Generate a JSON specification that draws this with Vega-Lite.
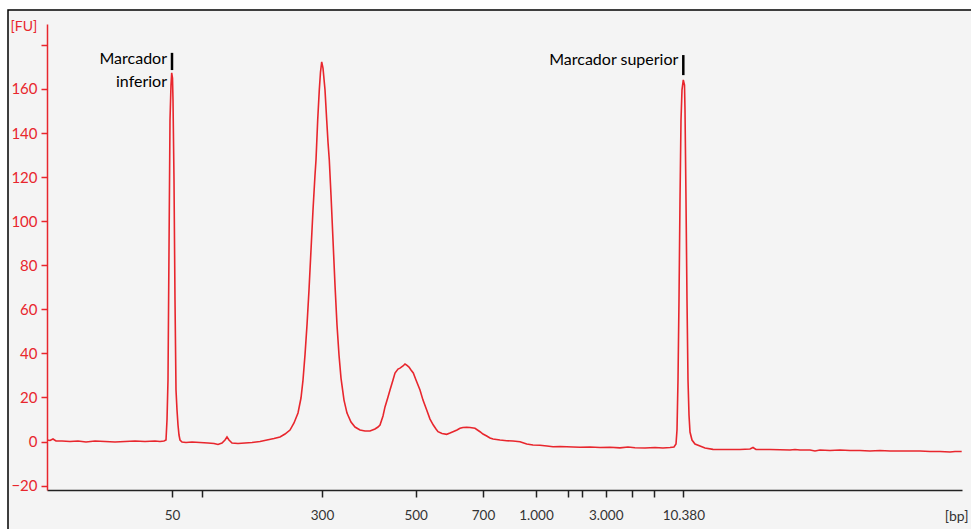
{
  "$schema": "https://vega.github.io/schema/vega-lite/v6.json",
  "width": 915,
  "height": 466,
  "autosize": "none",
  "padding": {"left": 47, "top": 24, "right": 9, "bottom": 39},
  "background": "white",
  "config": {"view": {"stroke": null}, "font": "Lato"},
  "datasets": {
    "trace": [
      {"t":30.0,"fu":0.68},{"t":30.3,"fu":0.45},{"t":30.6,"fu":1.13},{"t":30.9,"fu":0.23},{"t":31.5,"fu":0.23},{"t":32.3,"fu":0},{"t":33.1,"fu":0.23},{"t":33.9,"fu":-0.23},{"t":34.8,"fu":0.23},{"t":35.8,"fu":0},{"t":36.8,"fu":-0.23},{"t":37.8,"fu":0},{"t":38.8,"fu":0.23},{"t":39.8,"fu":0},{"t":40.8,"fu":0.23},{"t":41.3,"fu":0},{"t":41.7,"fu":0.23},{"t":41.9,"fu":0.68},
      {"t":42.0,"fu":9.76},{"t":42.1,"fu":27.9},{"t":42.2,"fu":86.9},{"t":42.3,"fu":145.9},{"t":42.4,"fu":161.8},{"t":42.47,"fu":167.3},{"t":42.55,"fu":165.0},{"t":42.6,"fu":155.0},{"t":42.7,"fu":118.7},{"t":42.8,"fu":64.2},{"t":42.9,"fu":23.4},{"t":43.0,"fu":14.3},{"t":43.1,"fu":7.5},{"t":43.2,"fu":2.95},{"t":43.3,"fu":0.68},
      {"t":43.5,"fu":-0.23},{"t":43.9,"fu":-0.45},{"t":44.5,"fu":-0.23},{"t":45.3,"fu":-0.45},{"t":46.1,"fu":-0.68},{"t":46.7,"fu":-0.91},{"t":47.1,"fu":-1.36},{"t":47.5,"fu":-0.68},{"t":47.8,"fu":0.68},{"t":48.0,"fu":2.04},{"t":48.2,"fu":0.68},{"t":48.5,"fu":-0.68},{"t":49.1,"fu":-0.91},{"t":49.8,"fu":-0.68},{"t":50.5,"fu":-0.45},{"t":51.3,"fu":0},{"t":52.0,"fu":0.68},{"t":52.7,"fu":1.36},{"t":53.3,"fu":2.04},{"t":53.8,"fu":3.4},{"t":54.3,"fu":5.22},{"t":54.7,"fu":8.4},{"t":55.1,"fu":12.94},{"t":55.4,"fu":19.75},{"t":55.6,"fu":27.9},{"t":55.8,"fu":39.3},{"t":56.0,"fu":52.9},{"t":56.2,"fu":68.8},{"t":56.4,"fu":86.9},{"t":56.6,"fu":105.1},{"t":56.8,"fu":121.0},{"t":56.9,"fu":127.8},{"t":57.07,"fu":145.9},{"t":57.23,"fu":159.6},{"t":57.35,"fu":167.7},{"t":57.47,"fu":172.3},{"t":57.6,"fu":169.5},{"t":57.8,"fu":159.6},{"t":57.97,"fu":145.9},{"t":58.1,"fu":135.9},{"t":58.23,"fu":127.8},{"t":58.4,"fu":111.9},{"t":58.6,"fu":91.5},{"t":58.8,"fu":71.0},{"t":59.0,"fu":52.9},{"t":59.2,"fu":39.3},{"t":59.4,"fu":28.8},{"t":59.7,"fu":18.8},{"t":60.0,"fu":12.9},{"t":60.4,"fu":8.85},{"t":60.8,"fu":6.58},{"t":61.3,"fu":5.22},{"t":61.8,"fu":4.77},{"t":62.3,"fu":4.77},{"t":62.8,"fu":5.67},{"t":63.1,"fu":6.58},{"t":63.3,"fu":7.49},{"t":63.6,"fu":11.6},{"t":63.8,"fu":15.7},{"t":64.1,"fu":20.2},{"t":64.3,"fu":23.4},{"t":64.6,"fu":27.9},{"t":64.8,"fu":31.1},{"t":65.1,"fu":32.9},{"t":65.3,"fu":33.3},{"t":65.6,"fu":34.3},{"t":65.8,"fu":35.2},{"t":65.97,"fu":34.7},{"t":66.2,"fu":33.8},{"t":66.4,"fu":32.5},{"t":66.63,"fu":31.1},{"t":66.9,"fu":27.9},{"t":67.3,"fu":23.4},{"t":67.6,"fu":18.8},{"t":67.97,"fu":14.3},{"t":68.3,"fu":10.2},{"t":68.63,"fu":7.49},{"t":68.9,"fu":5.67},{"t":69.1,"fu":4.45},{"t":69.5,"fu":3.63},{"t":69.97,"fu":3.27},{"t":70.3,"fu":3.86},{"t":70.6,"fu":4.45},{"t":71.0,"fu":5.22},{"t":71.3,"fu":5.99},{"t":71.6,"fu":6.35},{"t":71.97,"fu":6.45},{"t":72.3,"fu":6.35},{"t":72.8,"fu":5.99},{"t":73.3,"fu":4.45},{"t":73.6,"fu":3.4},{"t":73.97,"fu":2.5},{"t":74.3,"fu":1.59},{"t":74.6,"fu":1.13},{"t":75.3,"fu":0.68},{"t":75.97,"fu":0.36},{"t":76.6,"fu":0.23},{"t":77.3,"fu":-0.09},{"t":77.97,"fu":-1.13},{"t":78.6,"fu":-1.59},{"t":79.3,"fu":-1.72},{"t":80.0,"fu":-2.04},{"t":80.6,"fu":-2.36},{"t":81.3,"fu":-2.27},{"t":81.97,"fu":-2.36},{"t":82.6,"fu":-2.5},{"t":83.3,"fu":-2.63},{"t":84.3,"fu":-2.5},{"t":85.3,"fu":-2.72},{"t":86.3,"fu":-2.63},{"t":87.3,"fu":-2.86},{"t":88.1,"fu":-2.5},{"t":88.8,"fu":-2.81},{"t":89.8,"fu":-2.95},{"t":90.8,"fu":-2.72},{"t":91.6,"fu":-2.95},{"t":92.3,"fu":-2.72},{"t":92.7,"fu":-2.5},{"t":92.9,"fu":-1.13},
      {"t":93.0,"fu":5.22},{"t":93.1,"fu":27.9},{"t":93.2,"fu":64.2},{"t":93.3,"fu":109.6},{"t":93.4,"fu":145.9},{"t":93.5,"fu":159.6},{"t":93.63,"fu":164.1},{"t":93.75,"fu":161.8},{"t":93.8,"fu":150.5},{"t":93.9,"fu":109.6},{"t":94.0,"fu":64.2},{"t":94.1,"fu":27.9},{"t":94.2,"fu":12.0},{"t":94.3,"fu":4.31},{"t":94.5,"fu":0.68},{"t":94.8,"fu":-1.13},{"t":95.3,"fu":-2.04},{"t":95.8,"fu":-2.95},{"t":96.6,"fu":-3.54},{"t":97.8,"fu":-3.63},{"t":99.3,"fu":-3.63},{"t":100.3,"fu":-3.4},{"t":100.6,"fu":-2.72},{"t":100.9,"fu":-3.63},{"t":102.3,"fu":-3.63},{"t":104.3,"fu":-3.86},{"t":104.8,"fu":-3.63},{"t":105.3,"fu":-3.86},{"t":106.3,"fu":-3.86},{"t":106.8,"fu":-4.31},{"t":107.3,"fu":-3.86},{"t":108.3,"fu":-4.09},{"t":109.3,"fu":-3.86},{"t":110.3,"fu":-4.09},{"t":111.3,"fu":-4.09},{"t":112.3,"fu":-4.31},{"t":113.3,"fu":-4.09},{"t":114.3,"fu":-4.31},{"t":115.3,"fu":-4.31},{"t":116.3,"fu":-4.31},{"t":117.3,"fu":-4.31},{"t":118.3,"fu":-4.54},{"t":119.3,"fu":-4.54},{"t":120.3,"fu":-4.77},{"t":120.8,"fu":-4.54},{"t":121.47,"fu":-4.54}
    ],
    "markers": [
      {"t": 42.5, "top": 176.4, "bottom": 168.6},
      {"t": 93.63, "top": 175.4, "bottom": 166.3}
    ],
    "labels": [
      {"t": 42.5, "fu": 173.6, "text": "Marcador"},
      {"t": 42.5, "fu": 163.2, "text": "inferior"},
      {"t": 93.63, "fu": 173.2, "text": "Marcador superior"}
    ]
  },
  "layer": [
    {
      "data": {"values": [{"x0": 26.1, "x1": 125, "y0": 195.9, "y1": -53.8}]},
      "mark": {"type": "rect", "fill": "#f4f4f4", "stroke": "#000000", "strokeWidth": 1.5, "clip": false},
      "encoding": {
        "x": {"field": "x0", "type": "quantitative"},
        "x2": {"field": "x1"},
        "y": {"field": "y0", "type": "quantitative"},
        "y2": {"field": "y1"}
      }
    },
    {
      "data": {"name": "trace"},
      "mark": {"type": "line", "color": "#e8262d", "strokeWidth": 1.6, "clip": true},
      "encoding": {
        "x": {
          "field": "t", "type": "quantitative",
          "scale": {"domain": [30, 121.5], "nice": false, "zero": false},
          "axis": {
            "zindex": 1,
            "values": [42.5, 45.5, 57.5, 66.87, 73.6, 78.9, 82.1, 83.47, 85.87, 88.47, 90.67, 93.63],
            "labelExpr": "datum.value == 42.5 ? '50' : datum.value == 57.5 ? '300' : datum.value == 66.87 ? '500' : datum.value == 73.6 ? '700' : datum.value == 78.9 ? '1.000' : datum.value == 85.87 ? '3.000' : datum.value == 93.63 ? '10.380' : ''",
            "grid": false,
            "domainColor": "#222222", "domainWidth": 1.5,
            "tickColor": "#222222", "tickWidth": 1.5, "tickSize": 7,
            "labelColor": "#333333", "labelFontSize": 13.5, "labelFont": "Lato", "labelPadding": 11,
            "labelOverlap": false, "labelFlush": false,
            "title": "[bp]", "titleFont": "Lato", "titleFontSize": 14, "titleFontWeight": "normal", "titleColor": "#333333",
            "titleX": 921, "titleY": 26, "titleAlign": "right", "titleBaseline": "middle", "titleAnchor": null
          }
        },
        "y": {
          "field": "fu", "type": "quantitative",
          "scale": {"domain": [-22, 189.5], "nice": false, "zero": false},
          "axis": {
            "zindex": 1,
            "values": [-20, 0, 20, 40, 60, 80, 100, 120, 140, 160, 180],
            "labelExpr": "datum.value == 180 ? '' : datum.label",
            "grid": false,
            "domainColor": "#e8262d", "domainWidth": 1.5,
            "tickColor": "#e8262d", "tickWidth": 1.5, "tickSize": 6,
            "labelColor": "#e8262d", "labelFontSize": 15, "labelFont": "Lato", "labelPadding": 4,
            "title": "[FU]", "titleFont": "Lato", "titleFontSize": 14, "titleFontWeight": "normal", "titleColor": "#e8262d",
            "titleAngle": 0, "titleX": -37, "titleY": 2, "titleAlign": "left", "titleBaseline": "middle"
          }
        }
      }
    },
    {
      "data": {"name": "markers"},
      "mark": {"type": "rule", "color": "#000000", "strokeWidth": 2.5},
      "encoding": {
        "x": {"field": "t", "type": "quantitative"},
        "y": {"field": "top", "type": "quantitative"},
        "y2": {"field": "bottom"}
      }
    },
    {
      "data": {"name": "labels"},
      "mark": {"type": "text", "align": "right", "baseline": "middle", "dx": -5, "font": "Lato", "fontSize": 16, "color": "#000000"},
      "encoding": {
        "x": {"field": "t", "type": "quantitative"},
        "y": {"field": "fu", "type": "quantitative"},
        "text": {"field": "text"}
      }
    }
  ]
}
